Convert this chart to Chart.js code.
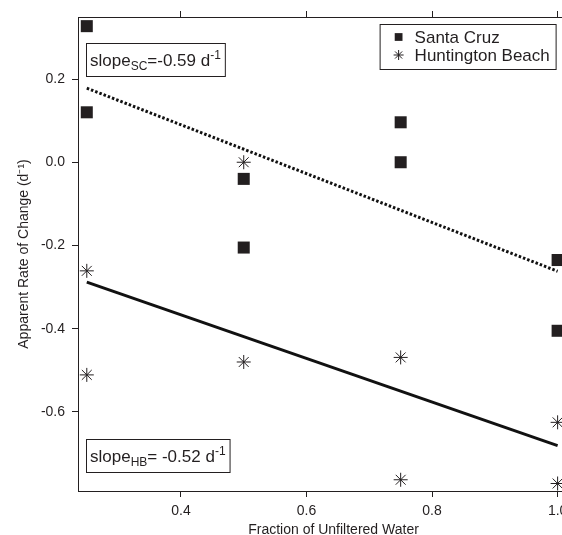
<!DOCTYPE html>
<html>
<head>
<meta charset="utf-8">
<script src="https://cdn.jsdelivr.net/npm/chart.js@4.4.0/dist/chart.umd.min.js"></script>
<style>
  html, body { margin: 0; padding: 0; background: #fff; overflow: hidden; }
  #wrap { width: 562px; height: 535px; overflow: hidden; }
</style>
</head>
<body>
<div id="wrap"><canvas id="myChart" width="600" height="535"></canvas></div>
<script>
'use strict'

// values
const fractions = [0.25, 0.25, 0.5, 0.5, 0.75, 0.75, 1.0, 1.0];
const santaCruz = [0.327, 0.12, -0.04, -0.205, 0.096, 0.0, -0.235, -0.405];
const huntingtonBeach = [-0.261, -0.511, 0.0, -0.48, -0.469, -0.763, -0.625, -0.772];
const fitX = [0.25, 1.0];
const fitSC = [0.178, -0.262];
const fitHB = [-0.288, -0.681];
const xTicks = [0.4, 0.6, 0.8, 1.0];
const yTicks = [-0.6, -0.4, -0.2, 0.0, 0.2];
const xRange = [0.236, 1.05];
const yRange = [-0.79, 0.349];
const seriesNames = ['Santa Cruz', 'Huntington Beach'];
const slopeSC = ['slope', 'SC', '=-0.59 d', '-1'];
const slopeHB = ['slope', 'HB', '= -0.52 d', '-1'];

const ink = '#231f20';
const fontFamily = "'Liberation Sans', Arial, sans-serif";
Chart.defaults.font.family = fontFamily;
Chart.defaults.color = ink;

function toPoints(xs, ys) {
  return xs.map((x, i) => ({ x: x, y: ys[i] }));
}

function fixedTicks(list) {
  return function(scale) {
    scale.ticks = list.map(v => ({ value: v }));
  };
}

// text with a subscript and a superscript, e.g. slope_SC=-0.59 d^-1
function drawRichText(ctx, parts, x, y) {
  const big = '17px ' + fontFamily;
  const small = '12px ' + fontFamily;
  ctx.textBaseline = 'alphabetic';
  ctx.textAlign = 'left';
  ctx.font = big;
  ctx.fillText(parts[0], x, y);
  x += ctx.measureText(parts[0]).width;
  ctx.font = small;
  ctx.fillText(parts[1], x, y + 4);
  x += ctx.measureText(parts[1]).width;
  ctx.font = big;
  ctx.fillText(parts[2], x, y);
  x += ctx.measureText(parts[2]).width;
  ctx.font = small;
  ctx.fillText(parts[3], x, y - 7);
  x += ctx.measureText(parts[3]).width;
  return x;
}

function textBox(ctx, parts, left, top, height) {
  ctx.save();
  ctx.fillStyle = ink;
  const end = drawRichText(ctx, parts, left + 4, top + 23);
  ctx.strokeStyle = ink;
  ctx.lineWidth = 1;
  ctx.strokeRect(left + 0.5, top + 0.5, end - left + 4, height);
  ctx.restore();
}

const overlays = {
  id: 'overlays',
  afterDraw(chart) {
    const ctx = chart.ctx;
    const area = chart.chartArea;
    const xs = chart.scales.x;

    textBox(ctx, slopeSC, area.left + 8, area.top + 26, 33);
    textBox(ctx, slopeHB, area.left + 8, area.bottom - 52, 33);

    // legend
    const right = xs.getPixelForValue(1.0) - 2;
    const left = right - 176;
    const top = area.top + 7;
    ctx.save();
    ctx.fillStyle = '#fff';
    ctx.fillRect(left, top, 176, 45);
    ctx.strokeStyle = ink;
    ctx.lineWidth = 1;
    ctx.strokeRect(left + 0.5, top + 0.5, 176, 45);
    const styles = [
      { pointStyle: 'rect', radius: 5.5, borderWidth: 0 },
      { pointStyle: 'star', radius: 5, borderWidth: 1 }
    ];
    for (let i = 0; i < seriesNames.length; i++) {
      const cy = top + 13 + i * 18;
      ctx.fillStyle = ink;
      ctx.strokeStyle = ink;
      ctx.lineWidth = 1;
      Chart.helpers.drawPoint(ctx, styles[i], left + 19, cy);
      ctx.fillStyle = ink;
      ctx.font = '17px ' + fontFamily;
      ctx.textBaseline = 'middle';
      ctx.textAlign = 'left';
      ctx.fillText(seriesNames[i], left + 35, cy + 1);
    }
    ctx.restore();
  }
};

const axisGrid = { drawOnChartArea: false, drawTicks: true, tickLength: 6, color: ink, tickColor: ink, lineWidth: 1 };
const axisBorder = { display: true, color: ink, width: 1 };

const ctx = document.getElementById('myChart').getContext('2d');
const chart = new Chart(ctx, {
  type: 'scatter',
  data: {
    datasets: [
      {
        label: seriesNames[0],
        data: toPoints(fractions, santaCruz),
        pointStyle: 'rect',
        pointRadius: 8.5,
        backgroundColor: ink,
        borderColor: ink,
        borderWidth: 0,
        clip: false
      },
      {
        label: seriesNames[1],
        data: toPoints(fractions, huntingtonBeach),
        pointStyle: 'star',
        pointRadius: 7,
        backgroundColor: ink,
        borderColor: ink,
        borderWidth: 1,
        clip: false
      },
      {
        type: 'line',
        label: 'fit SC',
        data: toPoints(fitX, fitSC),
        borderColor: '#111',
        borderWidth: 3,
        borderDash: [2.5, 2],
        pointRadius: 0,
        fill: false
      },
      {
        type: 'line',
        label: 'fit HB',
        data: toPoints(fitX, fitHB),
        borderColor: '#111',
        borderWidth: 3,
        pointRadius: 0,
        fill: false
      }
    ]
  },
  options: {
    responsive: false,
    animation: false,
    events: [],
    layout: { padding: { top: 11, left: 0, right: 11, bottom: 0 } },
    plugins: {
      legend: { display: false },
      tooltip: { enabled: false }
    },
    scales: {
      x: {
        type: 'linear',
        position: 'bottom',
        min: xRange[0],
        max: xRange[1],
        afterBuildTicks: fixedTicks(xTicks),
        afterFit: s => { s.height = 44; },
        grid: axisGrid,
        border: axisBorder,
        ticks: { padding: 6, color: ink, font: { size: 14 }, callback: v => v.toFixed(1) },
        title: { display: true, text: 'Fraction of Unfiltered Water', color: ink, font: { size: 14, lineHeight: 0.75 }, padding: 0 }
      },
      x2: {
        type: 'linear',
        position: 'top',
        min: xRange[0],
        max: xRange[1],
        afterBuildTicks: fixedTicks(xTicks),
        grid: axisGrid,
        border: axisBorder,
        ticks: { display: false }
      },
      y: {
        type: 'linear',
        position: 'left',
        min: yRange[0],
        max: yRange[1],
        afterBuildTicks: fixedTicks(yTicks),
        afterFit: s => { s.width = 78; },
        grid: axisGrid,
        border: axisBorder,
        ticks: { padding: 7, color: ink, font: { size: 14 }, callback: v => v.toFixed(1) },
        title: { display: true, text: 'Apparent Rate of Change (d\u207B\u00B9)', color: ink, font: { size: 14, lineHeight: 1 }, padding: { top: 17, bottom: 0 } }
      }
    }
  },
  plugins: [overlays]
});
</script>
</body>
</html>
